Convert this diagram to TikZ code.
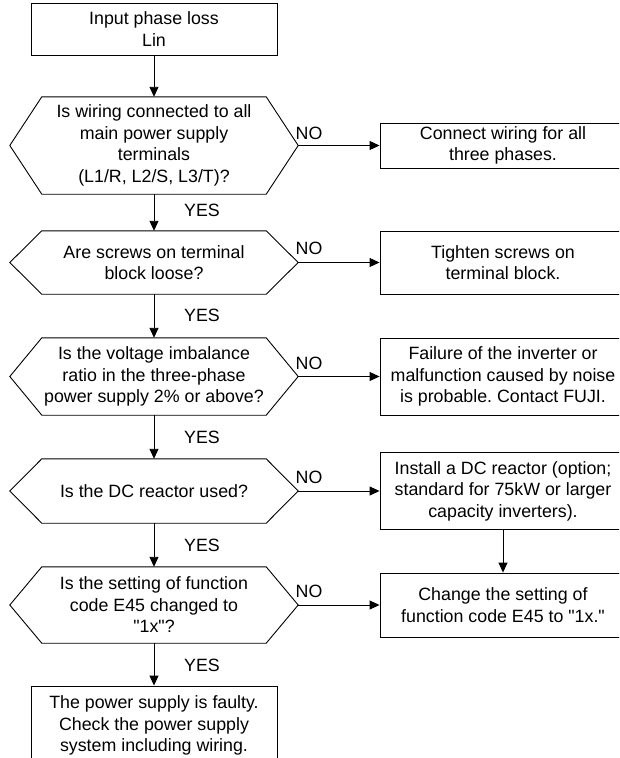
\documentclass[tikz,border=0pt]{standalone}
\usepackage{fontspec}
\setmainfont{Liberation Sans}[Ligatures=TeXOff]
\usetikzlibrary{arrows.meta,calc}
\frenchspacing
\begin{document}
\begin{tikzpicture}[x=1pt,y=-1pt,
  every node/.style={font=\fontsize{17.8}{21.5}\selectfont, text=black},
  box/.style={draw, line width=0.9pt, minimum width=246, inner sep=0, align=center},
  query/.style={minimum width=224, inner sep=0, align=center},
  outline/.style={line width=0.9pt, line join=miter},
  flow/.style={line width=0.9pt, -{Triangle[length=10pt,width=9pt]}},
  tag/.style={inner sep=0}]
\useasboundingbox (0,0) rectangle (619,758);
\clip (0,0) rectangle (619,758);
\fill[white] (0,0) rectangle (619,758);

% main column
\node[box, minimum height=52] (start) at (154,29) {Input phase loss\\Lin};
\node[query, minimum height=97] (q1) at (154,145.5) {Is wiring connected to all\\main power supply\\terminals\\(L1/R, L2/S, L3/T)?};
\node[query, minimum height=63] (q2) at (154,262.5) {Are screws on terminal\\block loose?};
\node[query, minimum height=77] (q3) at (154,376.5) {Is the voltage imbalance\\ratio in the three-phase\\power supply 2\% or above?};
\node[query, minimum height=64] (q4) at (154,491) {Is the DC reactor used?};
\node[query, minimum height=76] (q5) at (154,605) {Is the setting of function\\code E45 changed to\\"1x"?};
\node[box, minimum height=79] (fault) at (154,725.5) {The power supply is faulty.\\Check the power supply\\system including wiring.};

% hexagonal decision outlines
\foreach \q in {q1,q2,q3,q4,q5}{
  \draw[outline] (\q.north west) -- (\q.north east) -- ([xshift=32pt]\q.east) coordinate (\q r)
    -- (\q.south east) -- (\q.south west) -- ([xshift=-32pt]\q.west) -- cycle;
}

% remedy column
\node[box, minimum height=45] (a1) at (503,145.5) {Connect wiring for all\\three phases.};
\node[box, minimum height=63] (a2) at (503,262.5) {Tighten screws on\\terminal block.};
\node[box, minimum height=77] (a3) at (503,376.5) {Failure of the inverter or\\malfunction caused by noise\\is probable. Contact FUJI.};
\node[box, minimum height=77] (a4) at (503,491) {Install a DC reactor (option;\\standard for 75kW or larger\\capacity inverters).};
\node[box, minimum height=64] (a5) at (503,605) {Change the setting of\\function code E45 to "1x."};

% YES path
\draw[flow] (start.south) -- (q1.north);
\draw[flow] (q1.south) -- (q2.north);
\draw[flow] (q2.south) -- (q3.north);
\draw[flow] (q3.south) -- (q4.north);
\draw[flow] (q4.south) -- (q5.north);
\draw[flow] (q5.south) -- (fault.north);

% NO branches
\draw[flow] (q1r) -- (a1.west);
\draw[flow] (q2r) -- (a2.west);
\draw[flow] (q3r) -- (a3.west);
\draw[flow] (q4r) -- (a4.west);
\draw[flow] (q5r) -- (a5.west);
\draw[flow] (a4.south) -- (a5.north);

% branch labels
\node[tag] (y1) at (202,210) {YES};
\node[tag] (y2) at (202,315) {YES};
\node[tag] (y3) at (202,437) {YES};
\node[tag] (y4) at (202,545) {YES};
\node[tag] (y5) at (202,665) {YES};
\node[tag] (n1) at (309,133) {NO};
\node[tag] (n2) at (309,248) {NO};
\node[tag] (n3) at (309,363) {NO};
\node[tag] (n4) at (309,477) {NO};
\node[tag] (n5) at (309,591) {NO};
\end{tikzpicture}
\end{document}
